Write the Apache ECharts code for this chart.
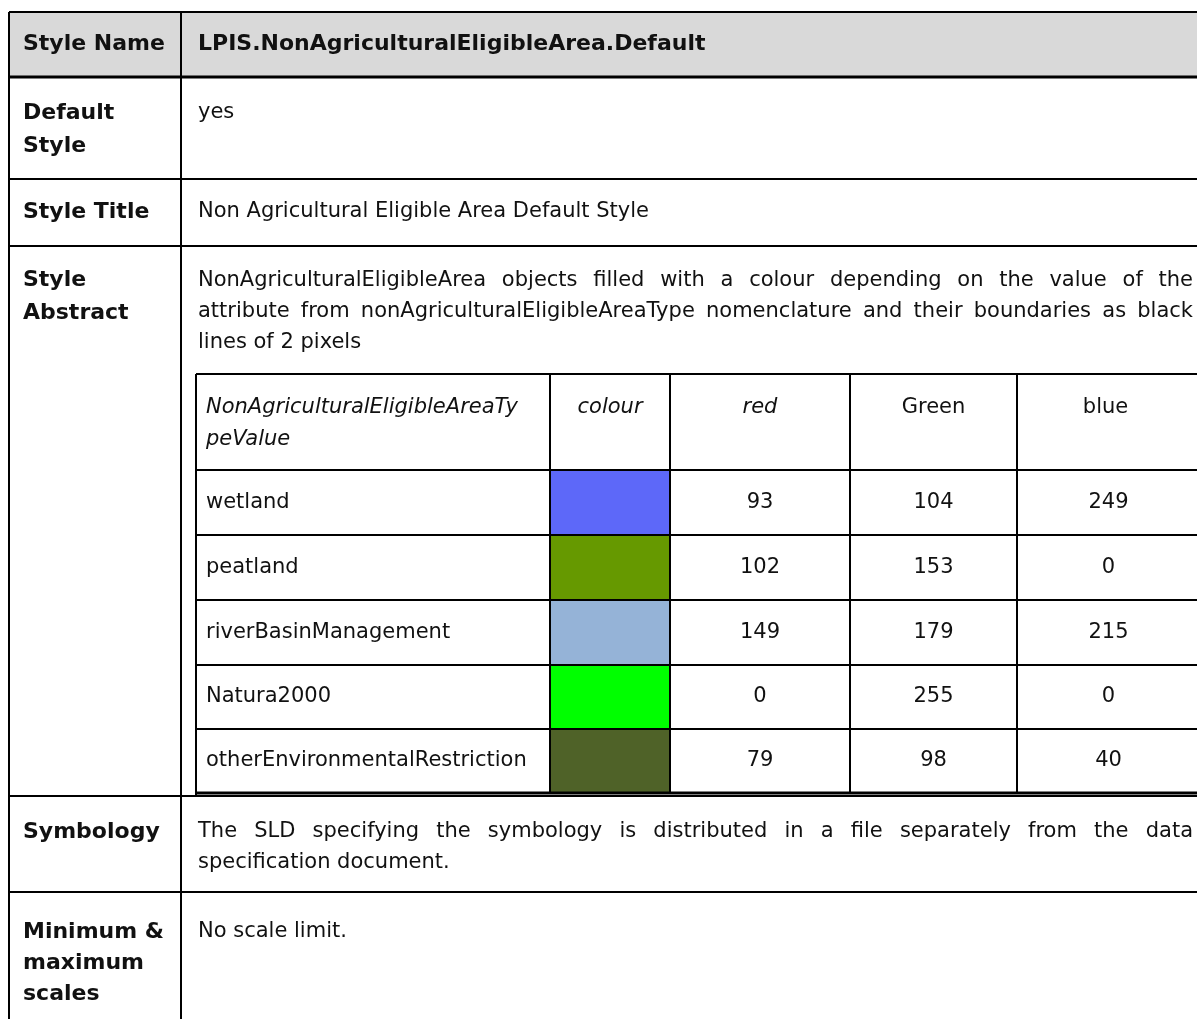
<!DOCTYPE html>
<html lang="en">
<head>
	<meta charset="UTF-8">
	<title>LPIS style table</title>
	<style type="text/css">
	body,html{
		width: 100%;
		height: 100%;
		margin: 0;
		padding: 0;
		background: #fff;
	}
	#main{
		width: 1197px;
		height: 1019px;
	}
	</style>
</head>
<body>
<div id="main"></div>
<script type="text/javascript" src="https://cdn.jsdelivr.net/npm/echarts@6/dist/echarts.min.js"></script>
<script type="text/javascript">
	// table content
	var rowLabels = [['Style Name'], ['Default', 'Style'], ['Style Title'], ['Style', 'Abstract'], ['Symbology'], ['Minimum &', 'maximum', 'scales']];
	var styleName = 'LPIS.NonAgriculturalEligibleArea.Default';
	var defaultStyle = 'yes';
	var styleTitle = 'Non Agricultural Eligible Area Default Style';
	var abstractLines = [
		'NonAgriculturalEligibleArea objects filled with a colour depending on the value of the',
		'attribute from nonAgriculturalEligibleAreaType nomenclature and their boundaries as black',
		'lines of 2 pixels'
	];
	var symbologyLines = [
		'The SLD specifying the symbology is distributed in a file separately from the data',
		'specification document.'
	];
	var scaleText = 'No scale limit.';

	// inner colour table
	var columnHeaders = [['NonAgriculturalEligibleAreaTy', 'peValue'], ['colour'], ['red'], ['Green'], ['blue']];
	var areaTypes = ['wetland', 'peatland', 'riverBasinManagement', 'Natura2000', 'otherEnvironmentalRestriction'];
	var redValues = [93, 102, 149, 0, 79];
	var greenValues = [104, 153, 179, 255, 98];
	var blueValues = [249, 0, 215, 0, 40];

	var FONT = '"DejaVu Sans"';
	var fReg = '21px ' + FONT;
	var fBold = 'bold 22px ' + FONT;
	var fItal = 'italic 21px ' + FONT;

	// layout
	var X0 = 9, XDIV = 181, XR = 1200;
	var rowY = [12, 77, 179, 246, 796, 892, 1030];
	var inX = [196, 550, 670, 850, 1017, 1200];
	var inY = [374, 470, 535, 600, 665, 729, 793];
	var TX = 198, TR = 1193;

	var measure = document.createElement('canvas').getContext('2d');
	function textW(str, font) {
		measure.font = font;
		return measure.measureText(str).width;
	}

	var els = [];
	function line(x1, y1, x2, y2, w) {
		els.push({type: 'line', shape: {x1: x1, y1: y1, x2: x2, y2: y2}, style: {stroke: '#000', lineWidth: w || 2}, z: 10});
	}
	function text(str, x, y, font, align) {
		els.push({type: 'text', x: x, y: y, style: {text: str, font: font, fill: '#111', textAlign: align || 'left', textVerticalAlign: 'middle'}, z: 5});
	}
	function justified(str, x, y, width) {
		var words = str.split(' ');
		var total = 0;
		words.forEach(function (w) { total += textW(w, fReg); });
		var gap = (width - total) / (words.length - 1);
		var cx = x;
		words.forEach(function (w) {
			text(w, cx, y, fReg);
			cx += textW(w, fReg) + gap;
		});
	}

	// header background
	els.push({type: 'rect', shape: {x: X0, y: rowY[0], width: XR - X0, height: rowY[1] - rowY[0]}, style: {fill: '#d9d9d9'}, z: 1});

	// outer grid
	for (var i = 0; i < rowY.length - 1; i++) {
		line(X0, rowY[i], XR, rowY[i], i === 1 ? 3 : 2);
	}
	line(X0, rowY[0], X0, 1030);
	line(XDIV, rowY[0], XDIV, 1030);

	// left column labels
	var labelY = [[44], [113, 146], [212], [280, 313], [832], [932, 963, 994]];
	rowLabels.forEach(function (lines, r) {
		lines.forEach(function (s, k) {
			text(s, 23, labelY[r][k], fBold);
		});
	});

	// right column content
	text(styleName, TX, 44, fBold);
	text(defaultStyle, TX, 113, fReg);
	text(styleTitle, TX, 212, fReg);
	abstractLines.forEach(function (s, k) {
		var y = 281 + k * 31;
		if (k < abstractLines.length - 1) justified(s, TX, y, TR - TX);
		else text(s, TX, y, fReg);
	});
	symbologyLines.forEach(function (s, k) {
		var y = 832 + k * 31;
		if (k < symbologyLines.length - 1) justified(s, TX, y, TR - TX);
		else text(s, TX, y, fReg);
	});
	text(scaleText, TX, 932, fReg);

	// inner table: swatches from rgb values
	areaTypes.forEach(function (t, r) {
		var col = 'rgb(' + redValues[r] + ',' + greenValues[r] + ',' + blueValues[r] + ')';
		els.push({type: 'rect', shape: {x: inX[1], y: inY[r + 1], width: inX[2] - inX[1], height: inY[r + 2] - inY[r + 1]}, style: {fill: col}, z: 2});
		var cy = (inY[r + 1] + inY[r + 2]) / 2;
		text(t, 206, cy, fReg);
		[redValues, greenValues, blueValues].forEach(function (arr, c) {
			text(String(arr[r]), (inX[c + 2] + inX[c + 3]) / 2, cy, fReg, 'center');
		});
	});

	// inner header
	text(columnHeaders[0][0], 206, 408, fItal);
	text(columnHeaders[0][1], 206, 440, fItal);
	text(columnHeaders[1][0], (inX[1] + inX[2]) / 2, 408, fItal, 'center');
	text(columnHeaders[2][0], (inX[2] + inX[3]) / 2, 408, fItal, 'center');
	text(columnHeaders[3][0], (inX[3] + inX[4]) / 2, 408, fReg, 'center');
	text(columnHeaders[4][0], (inX[4] + inX[5] - 6) / 2, 408, fReg, 'center');

	// inner grid
	for (var j = 0; j < inY.length; j++) {
		line(inX[0], inY[j], XR, inY[j], j === inY.length - 1 ? 3 : 2);
	}
	line(inX[0], inY[0], inX[0], rowY[4]);
	for (var c = 1; c < inX.length - 1; c++) {
		line(inX[c], inY[0], inX[c], inY[inY.length - 1]);
	}

	var chart = echarts.init(document.getElementById('main'));
	chart.setOption({
		animation: false,
		graphic: els
	});
	window.addEventListener('resize', function () {
		chart.resize();
	});
</script>
</body>
</html>
